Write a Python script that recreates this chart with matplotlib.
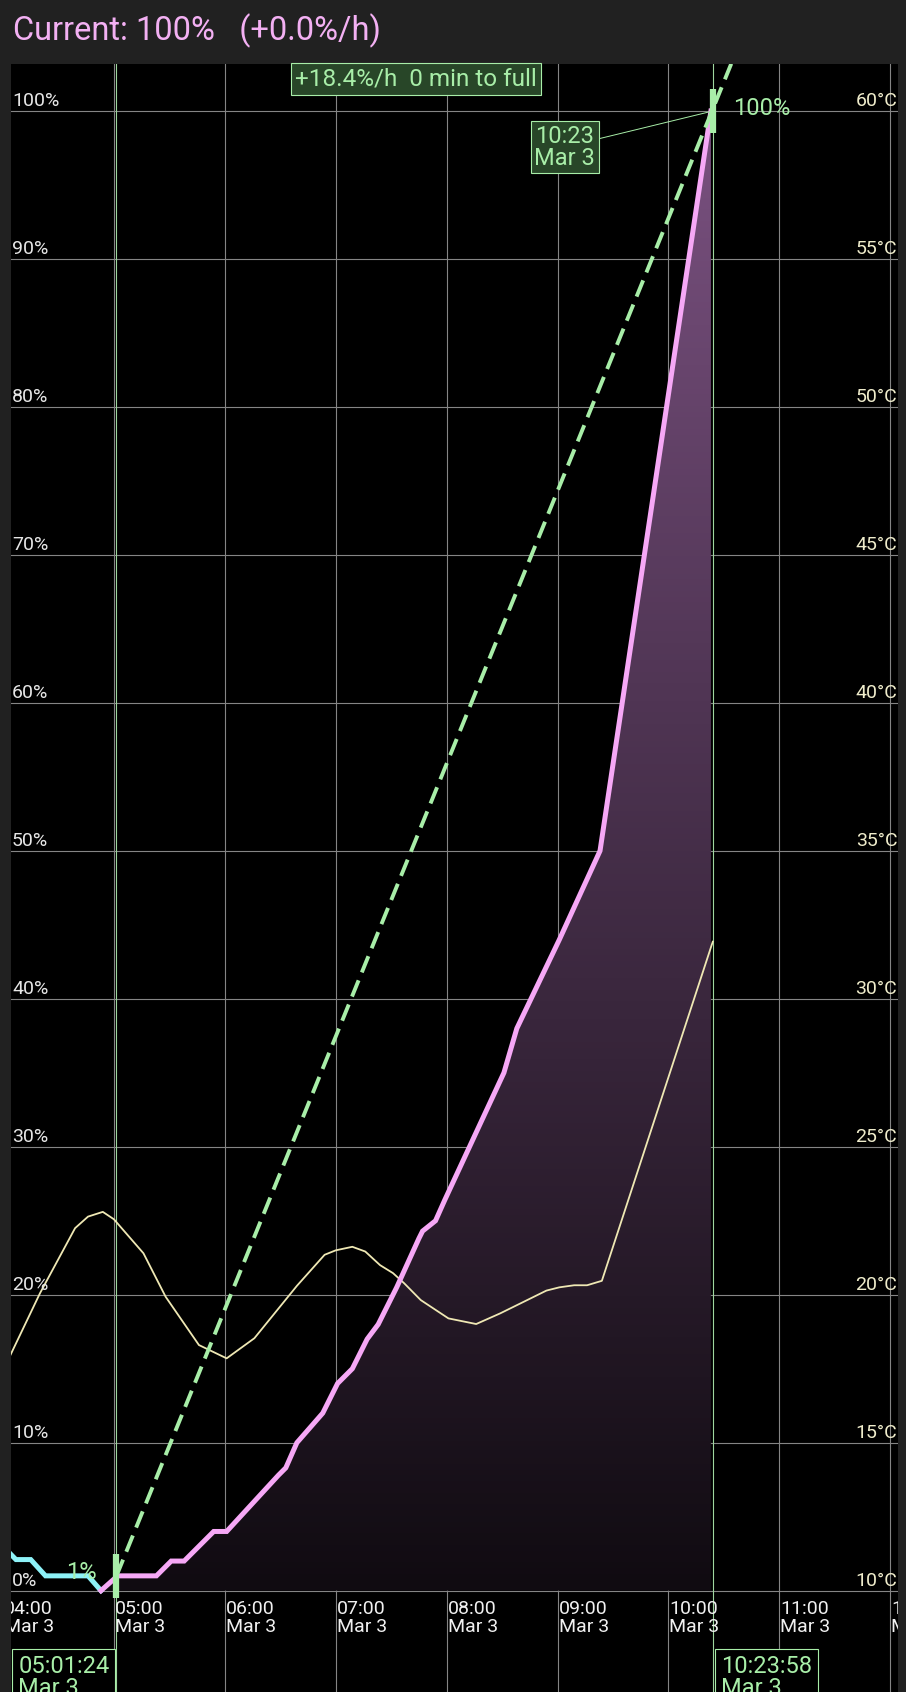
import numpy as np
import matplotlib
matplotlib.use("Agg")
import matplotlib.pyplot as plt
from matplotlib.colors import LinearSegmentedColormap

plt.rcParams['font.family'] = ['Roboto', 'DejaVu Sans']

# === DATA ===
# discharge tail before charging (cyan)
cyan_times = ["04:00", "04:07", "04:15", "04:23", "04:46", "04:53"]
cyan_pct = [3, 2.1, 2.1, 1, 1, 0]

# battery level while charging (pink)
batt_times = ["04:53", "05:02", "05:23", "05:31", "05:38", "05:54", "06:01",
              "06:29", "06:33", "06:39", "06:53", "07:01", "07:09", "07:17",
              "07:23", "07:33", "07:45", "07:47", "07:54", "07:59", "08:31",
              "08:38", "09:01", "09:23", "10:23"]
batt_pct = [0, 1, 1, 2, 2, 4, 4, 7.8, 8.3, 10, 12, 14, 15, 17,
            18, 20.5, 23.8, 24.3, 25, 26.4, 35, 38, 44, 50, 100]

# battery temperature (right axis, °C)
temp_times = ["04:04", "04:20", "04:39", "04:46", "04:54", "05:00", "05:16",
              "05:28", "05:46", "06:01", "06:16", "06:39", "06:54", "07:00",
              "07:09", "07:16", "07:24", "07:31", "07:37", "07:46", "08:01",
              "08:16", "08:29", "08:42", "08:54", "09:01", "09:09", "09:16",
              "09:24", "10:24"]
temp_c = [17.96, 20.05, 22.25, 22.64, 22.8, 22.55, 21.4,
          19.93, 18.3, 17.85, 18.53, 20.3, 21.35, 21.5,
          21.62, 21.46, 21.0, 20.73, 20.39, 19.82, 19.2,
          19.01, 19.37, 19.77, 20.14, 20.25, 20.32, 20.32,
          20.47, 31.93]

# charging-rate prediction (dashed green)
pred_times = ["05:01:24", "10:34"]
pred_pct = [1, 103.2]

start_time, start_pct = "05:01:24", 1
end_time, end_pct = "10:23:58", 100

rate_text = "+18.4%/h  0 min to full"
header_text = "Current: 100%   (+0.0%/h)"

hour_ticks = [4, 5, 6, 7, 8, 9, 10, 11, 12]
hour_labels = ["04:00\nMar 3", "05:00\nMar 3", "06:00\nMar 3", "07:00\nMar 3",
               "08:00\nMar 3", "09:00\nMar 3", "10:00\nMar 3", "11:00\nMar 3",
               "12:00\nMar 3"]
pct_ticks = [0, 10, 20, 30, 40, 50, 60, 70, 80, 90, 100]
temp_ticks = [10, 15, 20, 25, 30, 35, 40, 45, 50, 55, 60]


def hours(t):
    parts = [int(p) for p in t.split(":")]
    while len(parts) < 3:
        parts.append(0)
    return parts[0] + parts[1] / 60 + parts[2] / 3600


def temp_to_pct(c):
    return (c - 10) * 2


# === COLOURS ===
BG = "#212121"
PINK = "#f6a8f6"
CYAN = "#8ef2f8"
TEMP = "#efe8b4"
GREEN = "#a8eea8"
GRID = "#858585"

fig = plt.figure(figsize=(9.06, 16.92), dpi=100, facecolor=BG)
ax = fig.add_axes([11 / 906, 0, 887.3 / 906, 1628 / 1692])
ax.set_facecolor("black")
for s in ax.spines.values():
    s.set_visible(False)

x_lo, x_hi = 4.0721, 12.073
ax.set_xticks(hour_ticks)
ax.set_yticks(pct_ticks)
ax.tick_params(length=0, labelbottom=False, labelleft=False)
ax.grid(True, color=GRID, lw=0.8, zorder=0)
ax.set_axisbelow(True)

bx = np.array([hours(t) for t in batt_times])
by = np.array(batt_pct)

# gradient fill under the charge curve
grad = np.linspace(0, 1, 256).reshape(-1, 1)
cmap = LinearSegmentedColormap.from_list("fill", ["#100b11", "#7a5180"])
im = ax.imshow(grad, extent=[bx[0], bx[-1], 0, 100], origin="lower",
               aspect="auto", cmap=cmap, zorder=1)
poly = ax.fill_between(bx, by, 0, color="none", lw=0)
im.set_clip_path(poly.get_paths()[0], transform=ax.transData)
ax.set_xlim(x_lo, x_hi)
ax.set_ylim(-6.85, 103.18)

# vertical markers for charge start / end
for t in (start_time, end_time):
    ax.axvline(hours(t), color="#9ed69e", lw=0.8, zorder=2)

ax.plot([hours(t) for t in temp_times], [temp_to_pct(c) for c in temp_c],
        color=TEMP, lw=1.3, zorder=3)
ax.plot([hours(t) for t in cyan_times], cyan_pct, color=CYAN, lw=3.6,
        zorder=4, solid_joinstyle="miter")
ax.plot(bx, by, color=PINK, lw=3.6, zorder=4, solid_joinstyle="miter")
ax.plot([hours(t) for t in pred_times], pred_pct, color=GREEN, lw=2.8,
        dashes=(4.5, 2.2), zorder=5)

for t, v in ((start_time, start_pct), (end_time, end_pct)):
    ax.plot(hours(t), v, marker="|", ms=31, mew=4.5, color=GREEN, zorder=6)

# axis labels drawn inside the plot
for p in pct_ticks:
    ax.annotate(f"{p}%", xy=(0, p), xycoords=("axes fraction", "data"),
                xytext=(1, 5), textcoords="offset pixels", ha="left",
                va="baseline", fontsize=14, color="#e6e6e6", zorder=7)
for c in temp_ticks:
    ax.annotate(f"{c}°C", xy=(1, temp_to_pct(c)), xycoords=("axes fraction", "data"),
                xytext=(-1, 5), textcoords="offset pixels", ha="right",
                va="baseline", fontsize=14, color="#efeccb", zorder=7)
for h, lab in zip(hour_ticks, hour_labels):
    ax.annotate(lab, xy=(h, 0), xycoords="data", xytext=(1, -9),
                textcoords="offset pixels", ha="left", va="top", fontsize=14,
                color="#f0f0f0", linespacing=1.05, annotation_clip=False,
                clip_on=True, zorder=7)

# annotations
lab_kw = dict(fontsize=17, color=GREEN, textcoords="offset pixels", zorder=8)
ax.annotate(f"{start_pct}%", xy=(hours(start_time), start_pct), xytext=(-20, 3),
            ha="right", va="center", **lab_kw)
ax.annotate(f"{end_pct}%", xy=(hours(end_time), end_pct), xytext=(20, 3),
            ha="left", va="center", **lab_kw)
ax.annotate("10:23\nMar 3", xy=(hours(end_time), end_pct), xytext=(-148, -36),
            ha="center", va="center", multialignment="center", linespacing=0.95,
            bbox=dict(boxstyle="square,pad=0.15", fc="#284628", ec=GREEN, lw=0.8),
            arrowprops=dict(arrowstyle="-", color=GREEN, lw=0.7,
                            shrinkA=0, shrinkB=2), **lab_kw)
ax.annotate("05:01:24\nMar 3", xy=(hours(start_time), 0),
            xycoords=("data", "axes fraction"), xytext=(-7, 37),
            ha="right", va="top", multialignment="left", linespacing=0.95,
            bbox=dict(boxstyle="square,pad=0.25", fc="black", ec=GREEN, lw=0.8),
            annotation_clip=False, **lab_kw)
ax.annotate("10:23:58\nMar 3", xy=(hours(end_time), 0),
            xycoords=("data", "axes fraction"), xytext=(8, 37),
            ha="left", va="top", multialignment="left", linespacing=0.95,
            bbox=dict(boxstyle="square,pad=0.25", fc="black", ec=GREEN, lw=0.8),
            annotation_clip=False, **lab_kw)

fig.text(416 / 906, 1 - 79 / 1692, rate_text, ha="center", va="center",
         fontsize=17.5, color=GREEN,
         bbox=dict(boxstyle="square,pad=0.18", fc="#284628", ec=GREEN, lw=0.8))

fig.text(13 / 906, 1 - 31 / 1692, header_text, ha="left", va="center",
         fontsize=23.5, color="#f3b0f3")

fig.savefig("out.png", dpi=100, facecolor=BG)
